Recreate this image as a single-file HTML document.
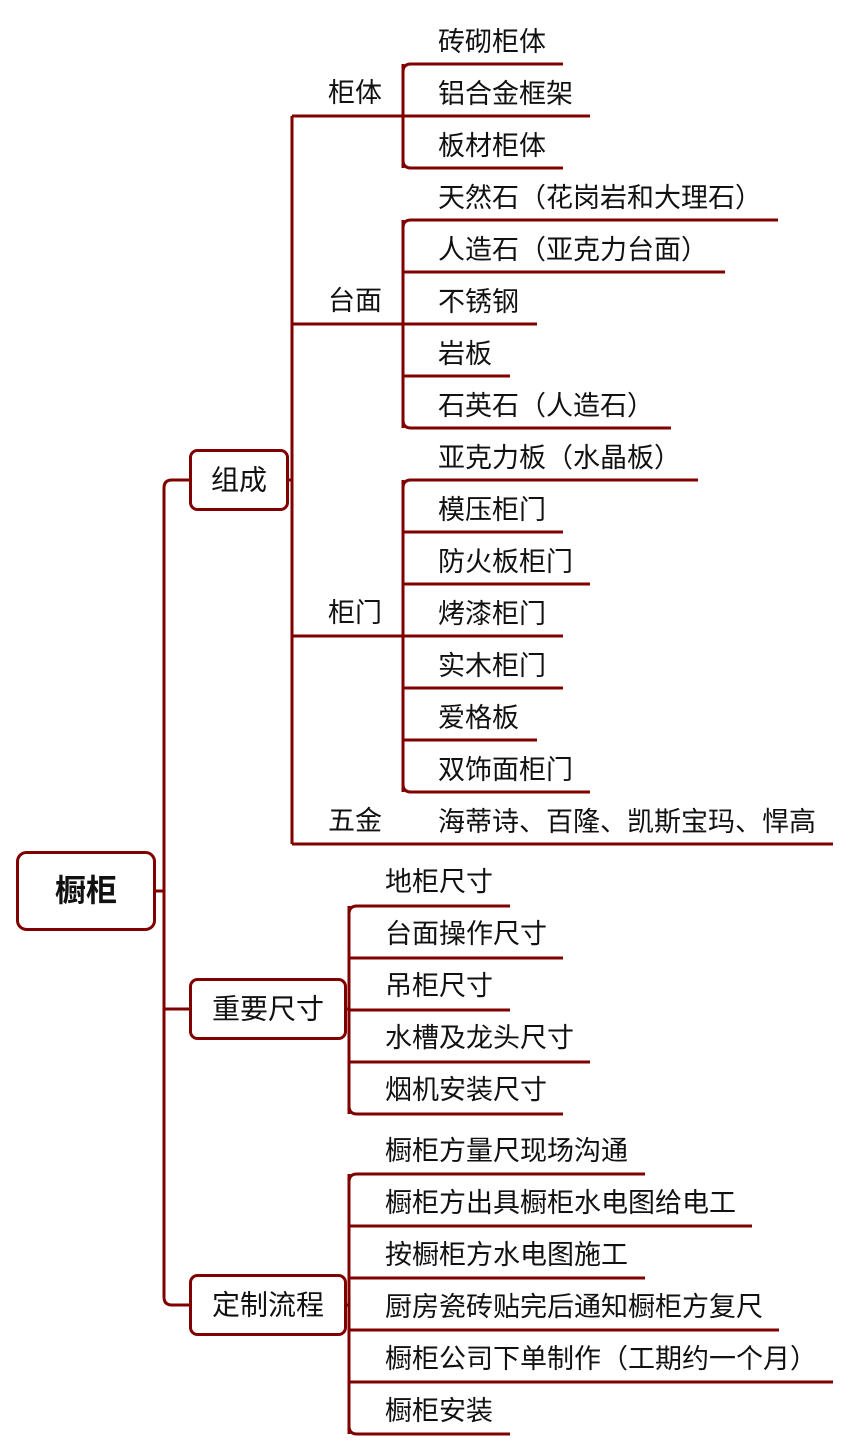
<!DOCTYPE html>
<html><head><meta charset="utf-8"><style>
html,body{margin:0;padding:0;background:#fff;}
svg{display:block;}
text{font-family:"Liberation Sans","Noto Sans CJK SC",sans-serif;font-size:27px;fill:#111;dominant-baseline:central;}
.b{font-size:28px;}
</style></head><body>
<svg width="852" height="1451" viewBox="0 0 852 1451" xmlns="http://www.w3.org/2000/svg">
<g fill="none" stroke="#800000" stroke-width="3">
<rect x="17.5" y="852.5" width="137" height="77" rx="9"/>
<rect x="190.5" y="450.5" width="97" height="59" rx="7"/>
<rect x="190.5" y="979.5" width="155" height="59" rx="7"/>
<rect x="190.5" y="1275.5" width="155" height="59" rx="7"/>
<path d="M155 891 H164 M190 480 H172 Q164 480 164 488 V1297 Q164 1305 172 1305 H190 M164 1009 H190"/>
<path d="M288 480 H292 M292 116 V844 M292 116 H403 M292 324 H403 M292 636 H403 M292 844 H833"/>
<path d="M403 64 V168"/>
<path d="M563 64 H411 Q403 64 403 72 M590 116 H403 M563 168 H411 Q403 168 403 160"/>
<path d="M403 220 V428"/>
<path d="M778 220 H411 Q403 220 403 228 M725 272 H403 M537 324 H403 M510 376 H403 M671 428 H411 Q403 428 403 420"/>
<path d="M403 480 V792"/>
<path d="M698 480 H411 Q403 480 403 488 M563 532 H403 M590 584 H403 M563 636 H403 M563 688 H403 M537 740 H403 M590 792 H411 Q403 792 403 784"/>
<path d="M346 1009 H349 M349 906 V1114"/>
<path d="M510 906 H357 Q349 906 349 914 M563 958 H349 M510 1010 H349 M590 1062 H349 M563 1114 H357 Q349 1114 349 1106"/>
<path d="M346 1305 H349 M349 1174 V1434"/>
<path d="M645 1174 H357 Q349 1174 349 1182 M752 1226 H349 M645 1278 H349 M779 1330 H349 M833 1382 H349 M510 1434 H357 Q349 1434 349 1426"/>
</g>
<text x="86" y="891" text-anchor="middle" style="font-size:31px;font-weight:bold">橱柜</text>
<text class="b" x="239" y="480" text-anchor="middle">组成</text>
<text class="b" x="268" y="1009" text-anchor="middle">重要尺寸</text>
<text class="b" x="268" y="1305" text-anchor="middle">定制流程</text>
<text x="328" y="93">柜体</text>
<text x="328" y="301">台面</text>
<text x="328" y="613">柜门</text>
<text x="328" y="821">五金</text>
<text x="438" y="42">砖砌柜体</text>
<text x="438" y="94">铝合金框架</text>
<text x="438" y="146">板材柜体</text>
<text x="438" y="198">天然石（花岗岩和大理石）</text>
<text x="438" y="250">人造石（亚克力台面）</text>
<text x="438" y="302">不锈钢</text>
<text x="438" y="354">岩板</text>
<text x="438" y="406">石英石（人造石）</text>
<text x="438" y="458">亚克力板（水晶板）</text>
<text x="438" y="510">模压柜门</text>
<text x="438" y="562">防火板柜门</text>
<text x="438" y="614">烤漆柜门</text>
<text x="438" y="666">实木柜门</text>
<text x="438" y="718">爱格板</text>
<text x="438" y="770">双饰面柜门</text>
<text x="438" y="822">海蒂诗、百隆、凯斯宝玛、悍高</text>
<text x="385" y="882">地柜尺寸</text>
<text x="385" y="934">台面操作尺寸</text>
<text x="385" y="986">吊柜尺寸</text>
<text x="385" y="1038">水槽及龙头尺寸</text>
<text x="385" y="1090">烟机安装尺寸</text>
<text x="385" y="1151">橱柜方量尺现场沟通</text>
<text x="385" y="1203">橱柜方出具橱柜水电图给电工</text>
<text x="385" y="1255">按橱柜方水电图施工</text>
<text x="385" y="1307">厨房瓷砖贴完后通知橱柜方复尺</text>
<text x="385" y="1359">橱柜公司下单制作（工期约一个月）</text>
<text x="385" y="1411">橱柜安装</text>
</svg>
</body></html>
